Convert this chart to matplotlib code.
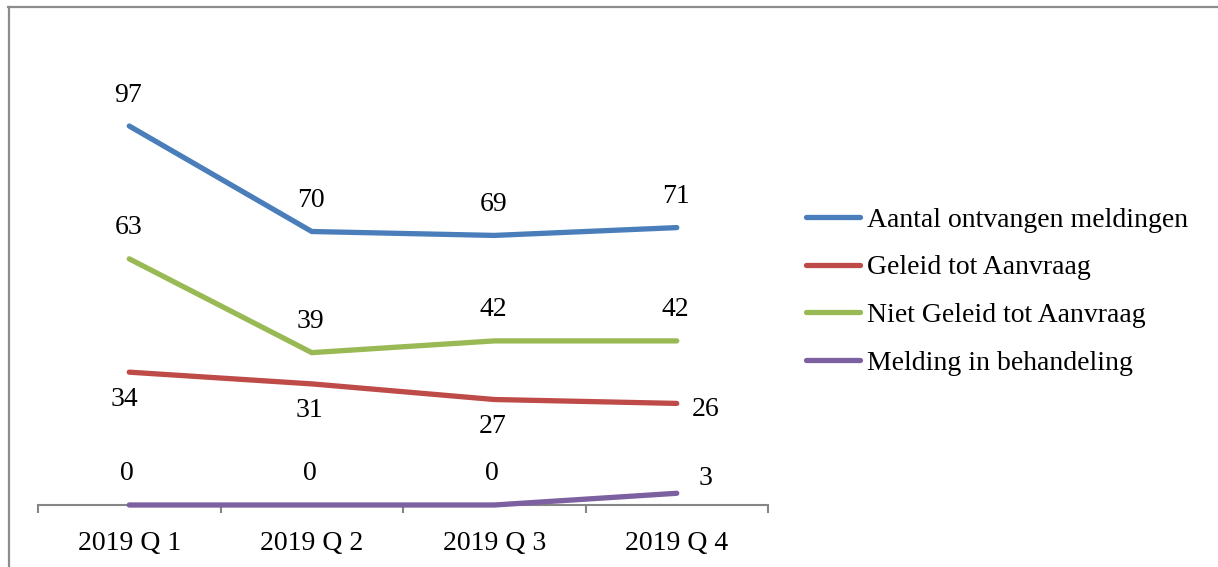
import matplotlib
matplotlib.use("Agg")
import matplotlib.pyplot as plt
from matplotlib.lines import Line2D

plt.rcParams['font.family'] = ['Liberation Serif', 'DejaVu Serif']

categories = ["2019 Q 1", "2019 Q 2", "2019 Q 3", "2019 Q 4"]
series_names = ["Aantal ontvangen meldingen", "Geleid tot Aanvraag",
                "Niet Geleid tot Aanvraag", "Melding in behandeling"]
aantal = [97, 70, 69, 71]
geleid = [34, 31, 27, 26]
niet_geleid = [63, 39, 42, 42]
behandeling = [0, 0, 0, 3]

colors = ["#4A7EBB", "#BE4B48", "#98B954", "#7D60A0"]

DPI = 100
W, H = 1218, 567
FS = 20
fig = plt.figure(figsize=(W / DPI, H / DPI), dpi=DPI)

# axes placement in pixels
x0, x1 = 38, 768
yb, yt = 505, 114.3
ax = fig.add_axes([x0 / W, 1 - yb / H, (x1 - x0) / W, (yb - yt) / H])
ax.set_xlim(-0.5, 3.5)
ax.set_ylim(0, 100)
ax.patch.set_alpha(0)
for s in ["top", "right", "left"]:
    ax.spines[s].set_visible(False)
ax.spines["bottom"].set_color("#868686")
ax.spines["bottom"].set_linewidth(1.5)
ax.set_yticks([])

xs = list(range(len(categories)))
ax.set_xticks(xs)
ax.set_xticklabels(categories, fontsize=FS)
ax.tick_params(axis="x", which="major", length=0, pad=19)
ax.set_xticks([i - 0.5 for i in range(len(categories) + 1)], minor=True)
ax.tick_params(axis="x", which="minor", length=6, color="#868686", width=1.5)

data = [aantal, geleid, niet_geleid, behandeling]
lw = 3.8
for vals, c, name in zip(data, colors, series_names):
    ax.plot(xs, vals, color=c, lw=lw, solid_capstyle="round", label=name,
            clip_on=False, zorder=3)

PX = 72 / DPI  # pixel -> point

def lab(x, y, dx, dy, ha="center"):
    ax.annotate(str(y), (x, y), xytext=(dx * PX, dy * PX),
                textcoords="offset points", ha=ha, va="center", fontsize=FS)

# data labels
for i, v in enumerate(aantal):
    lab(i, v, -1, 31)
for i, v in enumerate(niet_geleid):
    lab(i, v, -1, 31)
for i, v in enumerate(geleid):
    if i == len(geleid) - 1:
        lab(i, v, 29, -6)
    else:
        lab(i, v, -2 if i else -5, -27)
for i, v in enumerate(behandeling):
    if i == len(behandeling) - 1:
        lab(i, v, 29, 15)
    else:
        lab(i, v, -2, 32)

# legend
handles = [Line2D([0], [0], color=c, lw=lw, solid_capstyle="round") for c in colors]
fig.legend(handles, series_names, loc="center left",
           bbox_to_anchor=(806 / W, 1 - 291.5 / H), frameon=False,
           fontsize=FS, handlelength=1.95, handletextpad=0.24,
           labelspacing=0.8, borderpad=0, borderaxespad=0)

# outer border (top and left visible)
fig.add_artist(Line2D([8 / W, 1], [1 - 6.5 / H, 1 - 6.5 / H], color="#8C8C8C",
                      lw=1.6, transform=fig.transFigure))
fig.add_artist(Line2D([8.5 / W, 8.5 / W], [0, 1 - 6.5 / H], color="#8C8C8C",
                      lw=1.6, transform=fig.transFigure))

fig.savefig("out.png", dpi=DPI, facecolor="white")
